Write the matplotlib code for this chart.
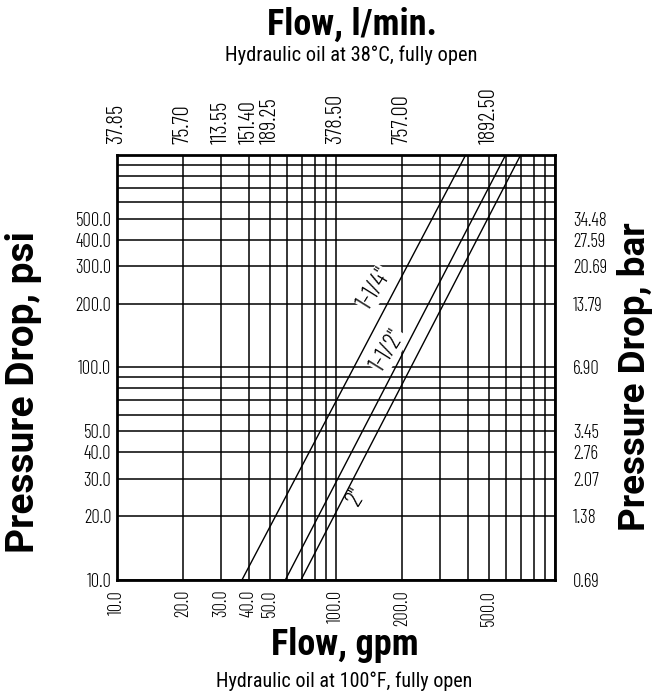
import numpy as np
import matplotlib
matplotlib.use("Agg")
import matplotlib.pyplot as plt
from matplotlib.ticker import NullLocator, NullFormatter, FixedLocator

# axis tick values (gpm / psi) and the converted labels
gpm_ticks  = [10, 20, 30, 40, 50, 100, 200, 500]
lpm_ticks  = [37.85, 75.70, 113.55, 151.40, 189.25, 378.50, 757.00, 1892.50]
psi_ticks  = [10, 20, 30, 40, 50, 100, 200, 300, 400, 500]
bar_ticks  = [0.69, 1.38, 2.07, 2.76, 3.45, 6.90, 13.79, 20.69, 27.59, 34.48]
grid_vals  = [1, 2, 3, 4, 5, 6, 7, 8, 9]

# valve curves: flow (gpm) at 10 psi and at 1000 psi
sizes      = ['1-1/4"', '1-1/2"', '2"']
flow_lo    = [37.2, 58.7, 69.2]
flow_hi    = [391, 595, 697]
psi_ends   = [10, 1000]
# where the size labels sit (gpm, psi)
lab_gpm    = [150, 173, 124]
lab_psi    = [235, 120, 24.5]

GPM2LPM = 3.785
PSI2BAR = 0.0689476

TICKFONT = ["Barlow Condensed", "DejaVu Sans"]
HEADFONT = ["Roboto Condensed", "DejaVu Sans"]
SIDEFONT = ["Roboto", "DejaVu Sans"]
TS = 13.5      # left / right / bottom ticks
TS_TOP = 16.5  # l/min ticks are drawn larger

fig = plt.figure(figsize=(6.55, 6.95), dpi=100)
ax = fig.add_axes([0.1786, 0.1655, 0.6687, 0.6115])
ax.set_xscale("log"); ax.set_yscale("log")
ax.set_xlim(10, 1000); ax.set_ylim(10, 1000)

# full grid at every 1..9 x decade
gx = [v * d for d in (10, 100) for v in grid_vals] + [1000]
ax.xaxis.set_major_locator(FixedLocator(gpm_ticks))
ax.xaxis.set_minor_locator(FixedLocator(gx))
ax.yaxis.set_major_locator(FixedLocator(psi_ticks))
ax.yaxis.set_minor_locator(FixedLocator(gx))
ax.xaxis.set_minor_formatter(NullFormatter())
ax.yaxis.set_minor_formatter(NullFormatter())
ax.set_xticklabels([f"{v:.1f}" for v in gpm_ticks])
ax.set_yticklabels([f"{v:.1f}" for v in psi_ticks])
ax.grid(True, which="both", color="black", lw=1.1)
ax.tick_params(which="both", length=0)
ax.tick_params(axis="x", rotation=90, pad=7)
ax.tick_params(axis="y", pad=4)
for lab in ax.get_xticklabels() + ax.get_yticklabels():
    lab.set_family(TICKFONT); lab.set_fontsize(TS); lab.set_weight(300)
for s in ax.spines.values():
    s.set_linewidth(2)

for name, lo, hi in zip(sizes, flow_lo, flow_hi):
    ax.plot([lo, hi], psi_ends, color="black", lw=1.0, zorder=4)

for name, gx_, py in zip(sizes, lab_gpm, lab_psi):
    ax.text(gx_, py, name, rotation=58, ha="center", va="center",
            family=TICKFONT, fontsize=18.5, weight=300, zorder=3,
            bbox=dict(fc="white", ec="none", pad=0.3))

# top axis in l/min
top = ax.secondary_xaxis("top", functions=(lambda x: x * GPM2LPM, lambda x: x / GPM2LPM))
top.set_xticks(lpm_ticks)
top.set_xticklabels([f"{v:.2f}" for v in lpm_ticks])
top.xaxis.set_minor_locator(NullLocator())
top.tick_params(which="both", length=0, rotation=90, pad=8)
for lab in top.get_xticklabels():
    lab.set_family(TICKFONT); lab.set_fontsize(TS_TOP); lab.set_weight(300)

# right axis in bar
rgt = ax.secondary_yaxis("right", functions=(lambda p: p * PSI2BAR, lambda b: b / PSI2BAR))
rgt.set_yticks(bar_ticks)
rgt.set_yticklabels([f"{v:.2f}" for v in bar_ticks])
rgt.yaxis.set_minor_locator(NullLocator())
rgt.tick_params(which="both", length=0, pad=13)
for lab in rgt.get_yticklabels():
    lab.set_family(TICKFONT); lab.set_fontsize(TS); lab.set_weight(300)
for s in top.spines.values():
    s.set_visible(False)
for s in rgt.spines.values():
    s.set_visible(False)

fig.text(0.537, 0.9496, "Flow, l/min.", ha="center", va="baseline",
         family=HEADFONT, weight="bold", fontsize=26)
fig.text(0.536, 0.912, "Hydraulic oil at 38°C, fully open", ha="center", va="baseline",
         family=HEADFONT, fontsize=14.7)
fig.text(0.527, 0.0576, "Flow, gpm", ha="center", va="baseline",
         family=HEADFONT, weight="bold", fontsize=26)
fig.text(0.525, 0.0115, "Hydraulic oil at 100°F, fully open", ha="center", va="baseline",
         family=HEADFONT, fontsize=14.5)
fig.text(0.0366, 0.436, "Pressure Drop, psi", rotation=90, ha="center", va="center",
         family=SIDEFONT, weight="bold", fontsize=28)
fig.text(0.9695, 0.4576, "Pressure Drop, bar", rotation=90, ha="center", va="center",
         family=SIDEFONT, weight="bold", fontsize=26.5)

fig.savefig("out.png", dpi=100)
